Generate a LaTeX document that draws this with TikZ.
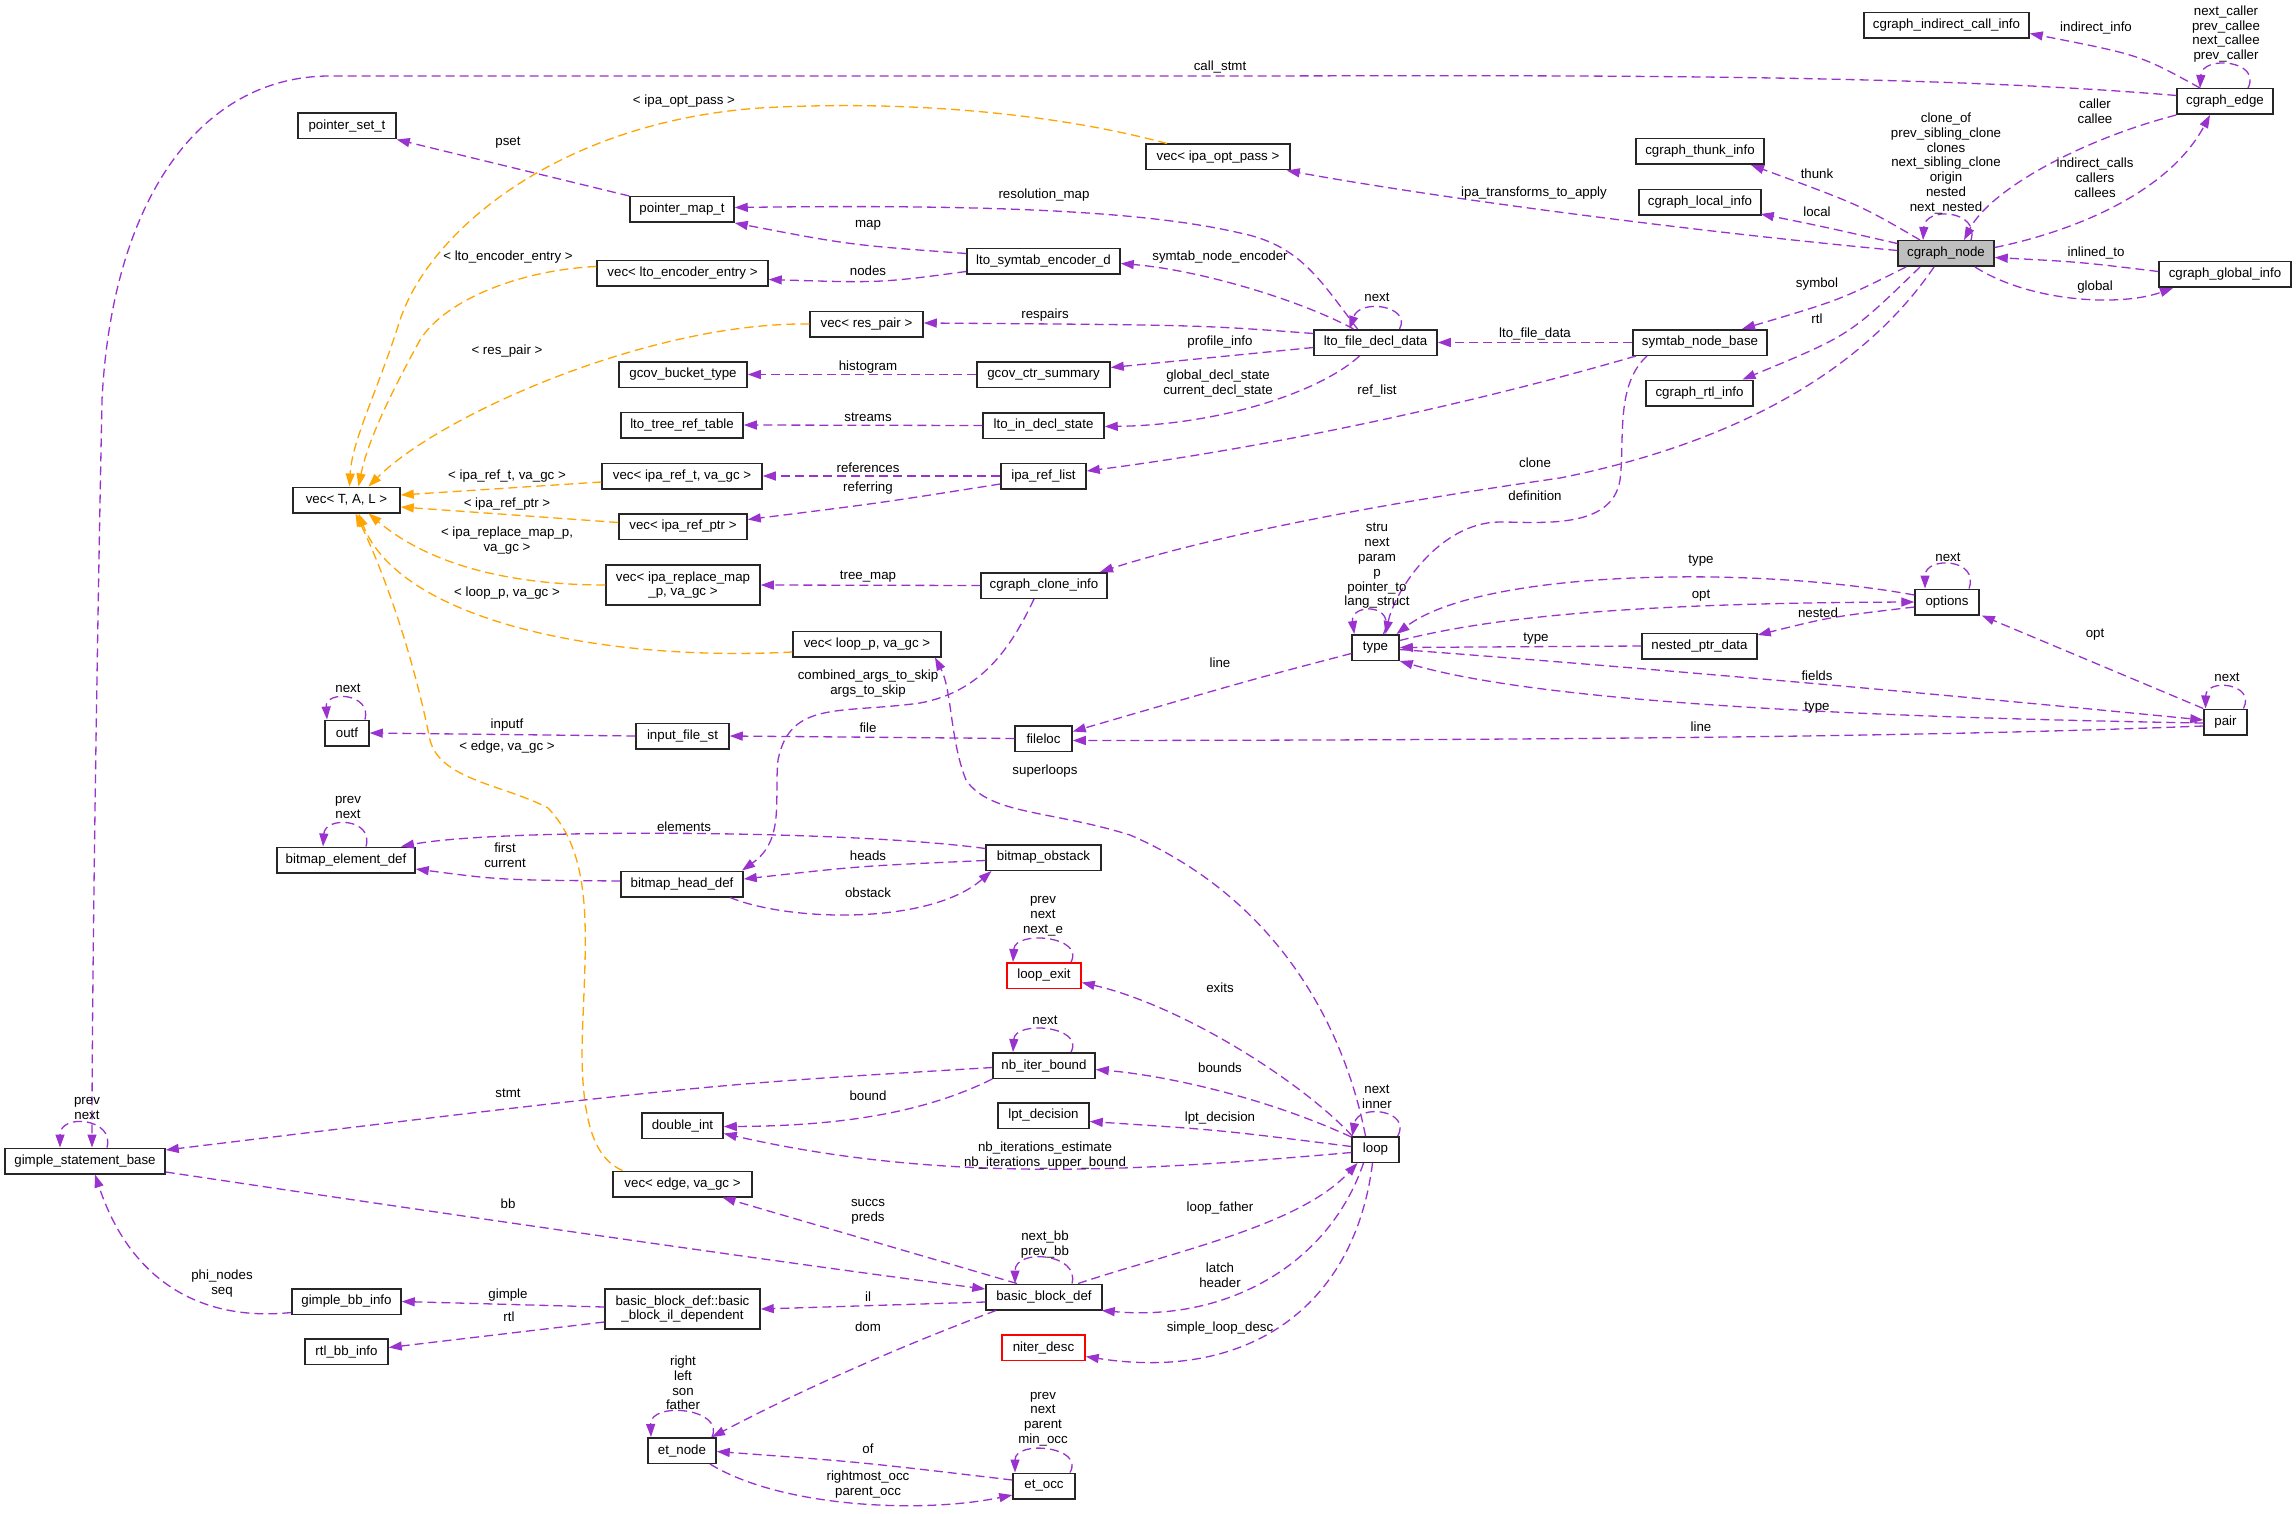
\documentclass[tikz,border=0pt]{standalone}
\usepackage{fontspec}
\setmainfont{Liberation Sans}
\usetikzlibrary{arrows.meta}
\definecolor{purp}{HTML}{9A32CD}
\definecolor{orng}{HTML}{FFA500}
\definecolor{nodegray}{HTML}{BFBFBF}
\begin{document}
\begin{tikzpicture}[x=1pt,y=-1pt,
  every node/.style={font=\fontsize{13.3}{14.8}\selectfont},
  box/.style={draw=black!85, line width=1.5pt, fill=white, inner sep=0pt, minimum height=25.5pt, align=center},
  redbox/.style={box, draw=red},
  lbl/.style={inner sep=0pt, align=center},
  pe/.style={draw=purp, line width=1.3pt, dash pattern=on 9pt off 5pt, -{Triangle[length=13pt,width=9pt]}},
  po/.style={pe, draw=orng}]
\useasboundingbox[fill=white] (0,0) rectangle (2296,1514);

% ---------- nodes ----------
\node[box, minimum width=165] (cgici) at (1946.5,25.5) {cgraph\_indirect\_call\_info};
\node[box, minimum width=96] (cge) at (2225,101.5) {cgraph\_edge};
\node[box, minimum width=128] (cth) at (1700,151.5) {cgraph\_thunk\_info};
\node[box, minimum width=122] (cgl) at (1700,202.5) {cgraph\_local\_info};
\node[box, minimum width=96, fill=nodegray] (cgn) at (1946,253.5) {cgraph\_node};
\node[box, minimum width=132] (cgg) at (2225,274.5) {cgraph\_global\_info};
\node[box, minimum width=144] (vop) at (1218,157) {vec< ipa\_opt\_pass >};
\node[box, minimum width=98] (pst) at (347,126) {pointer\_set\_t};
\node[box, minimum width=104] (pmt) at (682,209.5) {pointer\_map\_t};
\node[box, minimum width=153] (lse) at (1043.5,261.5) {lto\_symtab\_encoder\_d};
\node[box, minimum width=171] (vle) at (682.5,273.5) {vec< lto\_encoder\_entry >};
\node[box, minimum width=113] (vrp) at (866.5,324) {vec< res\_pair >};
\node[box, minimum width=123] (lfd) at (1375.5,342.5) {lto\_file\_decl\_data};
\node[box, minimum width=134] (snb) at (1700,342.5) {symtab\_node\_base};
\node[box, minimum width=128] (gbt) at (683,374.5) {gcov\_bucket\_type};
\node[box, minimum width=133] (gcs) at (1043.5,374.5) {gcov\_ctr\_summary};
\node[box, minimum width=107] (crtl) at (1699.5,393) {cgraph\_rtl\_info};
\node[box, minimum width=122] (ltrt) at (682,425) {lto\_tree\_ref\_table};
\node[box, minimum width=121] (lids) at (1043.5,425.5) {lto\_in\_decl\_state};
\node[box, minimum width=160] (vrt) at (682,476) {vec< ipa\_ref\_t, va\_gc >};
\node[box, minimum width=85] (irl) at (1043.5,476) {ipa\_ref\_list};
\node[box, minimum width=107] (vtal) at (346.5,500) {vec< T, A, L >};
\node[box, minimum width=128] (vrptr) at (683,526.5) {vec< ipa\_ref\_ptr >};
\node[box, minimum width=154, minimum height=40] (vrm) at (683,585) {vec< ipa\_replace\_map\\\_p, va\_gc >};
\node[box, minimum width=126] (cci) at (1044,585.5) {cgraph\_clone\_info};
\node[box, minimum width=148] (vlp) at (867,644) {vec< loop\_p, va\_gc >};
\node[box, minimum width=47] (typ) at (1375.5,647.5) {type};
\node[box, minimum width=115] (npd) at (1699.5,646) {nested\_ptr\_data};
\node[box, minimum width=64] (opt) at (1947,602) {options};
\node[box, minimum width=43] (pair) at (2225.5,722) {pair};
\node[box, minimum width=44] (outf) at (347,733) {outf};
\node[box, minimum width=93] (ifs) at (682.5,736) {input\_file\_st};
\node[box, minimum width=57] (fl) at (1043.5,738.5) {fileloc};
\node[box, minimum width=138] (bed) at (346,860) {bitmap\_element\_def};
\node[box, minimum width=122] (bhd) at (682,884) {bitmap\_head\_def};
\node[box, minimum width=115] (bo) at (1043.5,857.5) {bitmap\_obstack};
\node[redbox, minimum width=74] (le) at (1044,975.5) {loop\_exit};
\node[box, minimum width=102] (nib) at (1044,1065.5) {nb\_iter\_bound};
\node[box, minimum width=91] (lptd) at (1043.5,1115.5) {lpt\_decision};
\node[box, minimum width=81] (di) at (682.5,1125.5) {double\_int};
\node[box, minimum width=47] (lp) at (1375.5,1149.5) {loop};
\node[box, minimum width=160] (gsb) at (85,1161) {gimple\_statement\_base};
\node[box, minimum width=139] (ve) at (682.5,1184) {vec< edge, va\_gc >};
\node[box, minimum width=116] (bbd) at (1044,1297) {basic\_block\_def};
\node[box, minimum width=155, minimum height=40] (bbil) at (682.5,1309) {basic\_block\_def::basic\\\_block\_il\_dependent};
\node[box, minimum width=109] (gbb) at (346.5,1301.5) {gimple\_bb\_info};
\node[box, minimum width=83] (rbi) at (346.5,1351.5) {rtl\_bb\_info};
\node[redbox, minimum width=83] (nd) at (1043.5,1347.5) {niter\_desc};
\node[box, minimum width=68] (etn) at (682,1450.5) {et\_node};
\node[box, minimum width=62] (eto) at (1044,1486) {et\_occ};

% ---------- edges ----------
% cgraph_edge
\draw[pe] ([xshift=-25pt]cge.north) .. controls (2140,55) .. ([yshift=-8pt]cgici.east);
\draw[pe] ([xshift=23pt]cge.north) .. controls (2262,60) and (2202,55) .. ([xshift=-25pt]cge.north);
\draw[pe] ([yshift=6pt]cge.west) .. controls (1900,72) and (1500,76) .. (1200,76) -- (330,76) .. controls (200,76) and (112,200) .. (102,400) .. controls (96,700) and (92,1000) .. ([xshift=7pt]gsb.north);
% cgraph_node
\draw[pe] (cge.south west) .. controls (2080,140) and (1990,190) .. ([xshift=18pt]cgn.north);
\draw[pe] ([yshift=6pt]cgn.east) .. controls (2080,230) and (2170,190) .. ([xshift=-15pt]cge.south);
\draw[pe] ([xshift=25pt]cgn.north) .. controls (1980,210) and (1925,206) .. ([xshift=-23pt]cgn.north);
\draw[pe] ([xshift=-26pt]cgn.north) .. controls (1860,205) .. ([xshift=51pt]cth.south);
\draw[pe] ([yshift=10pt]cgn.west) .. controls (1825,227) .. ([xshift=-1pt,yshift=2pt]cgl.south east);
\draw[pe] ([yshift=3pt]cgg.west) .. controls (2080,262) .. ([yshift=-4pt]cgn.east);
\draw[pe] ([xshift=29pt]cgn.south) .. controls (2030,302) and (2120,307) .. ([xshift=-52pt]cgg.south);
\draw[pe] ([xshift=-40pt]cgn.south) .. controls (1840,300) .. ([xshift=42pt]snb.north);
\draw[pe] ([xshift=-26pt]cgn.south) .. controls (1850,335) .. ([xshift=43pt]crtl.north);
\draw[pe] ([xshift=-12pt]cgn.south) .. controls (1850,390) and (1700,450) .. (1560,478) .. controls (1350,508) and (1200,540) .. ([xshift=56pt]cci.north);
\draw[pe] ([yshift=3pt]cgn.west) .. controls (1700,232) and (1450,200) .. ([xshift=-4pt]vop.south east);
% symtab_node_base
\draw[pe] (snb.west) -- (lfd.east);
\draw[pe] ([xshift=-64pt]snb.south) .. controls (1450,410) and (1250,450) .. ([yshift=5pt]irl.east);
\draw[pe] ([xshift=-53pt]snb.south) .. controls (1615,385) and (1625,440) .. (1620,480) .. controls (1612,530) and (1540,522) .. (1500,522) .. controls (1440,522) and (1395,590) .. ([xshift=10pt]typ.north);
% orange template edges
\draw[po] ([xshift=-51pt]vop.north) .. controls (1050,112) and (900,100) .. (760,108) .. controls (560,122) and (430,230) .. (400,320) .. controls (378,390) and (352,440) .. ([xshift=3pt]vtal.north);
\draw[po] ([yshift=7pt]vle.west) .. controls (520,270) and (445,300) .. (420,340) .. controls (390,395) and (368,440) .. ([xshift=12pt]vtal.north);
\draw[po] (vrp.west) .. controls (650,322) and (440,415) .. ([xshift=22pt]vtal.north);
\draw[po] ([yshift=-6pt]vrt.west) -- ([yshift=5pt]vtal.east);
\draw[po] ([yshift=4pt]vrptr.west) .. controls (500,514) .. ([yshift=-7pt]vtal.east);
\draw[po] (vrm.west) .. controls (510,585) and (430,565) .. ([xshift=22pt]vtal.south);
\draw[po] ([yshift=-8pt]vlp.west) .. controls (600,662) and (400,620) .. ([xshift=12pt]vtal.south);
\draw[po] ([xshift=-60pt]ve.north) .. controls (598,1160) and (582,1130) .. (582,1050) .. controls (584,950) and (598,860) .. (548,808) .. controls (505,785) and (440,780) .. (430,740) .. controls (410,640) and (378,560) .. ([xshift=9pt]vtal.south);
% lto stuff
\draw[pe] (pmt.north west) -- (pst.south east);
\draw[pe] ([yshift=8pt]lse.west) .. controls (850,245) .. (pmt.south east);
\draw[pe] ([yshift=-10pt]lse.west) .. controls (880,283) .. ([yshift=-6pt]vle.east);
\draw[pe] ([xshift=24pt]lfd.north) .. controls (1412,306) and (1360,298) .. ([xshift=-26pt]lfd.north);
\draw[pe] ([xshift=-22pt]lfd.north) .. controls (1300,300) and (1200,270) .. ([yshift=-2pt]lse.east);
\draw[pe] ([xshift=-18pt]lfd.north) .. controls (1320,280) and (1300,245) .. (1240,233) .. controls (1150,212) and (1000,204) .. ([yshift=2pt]pmt.east);
\draw[pe] ([yshift=9pt]lfd.west) .. controls (1200,325) .. ([yshift=1pt]vrp.east);
\draw[pe] ([yshift=-5pt]lfd.west) -- ([yshift=7pt]gcs.east);
\draw[pe] ([xshift=-16pt]lfd.south) .. controls (1320,392) and (1220,425) .. ([yshift=-1pt]lids.east);
\draw[pe] (gcs.west) -- (gbt.east);
\draw[pe] (lids.west) -- (ltrt.east);
\draw[pe] (irl.west) -- (vrt.east);
\draw[pe] ([yshift=-8pt]irl.west) .. controls (880,503) .. ([yshift=7pt]vrptr.east);
\draw[pe] (cci.west) -- (vrm.east);
\draw[pe] ([xshift=-10pt]cci.south) .. controls (1010,650) and (980,692) .. (920,703) .. controls (840,714) and (790,700) .. (778,760) .. controls (774,800) and (785,840) .. ([xshift=60pt]bhd.north);
% type / options / pair
\draw[pe] ([xshift=8pt]typ.north) .. controls (1398,603) and (1350,603) .. ([xshift=3pt]typ.north west);
\draw[pe] ([yshift=7pt]opt.west) .. controls (1750,565) and (1480,570) .. ([xshift=21pt]typ.north);
\draw[pe] ([yshift=7pt]typ.east) .. controls (1500,615) and (1650,603) .. (opt.west);
\draw[pe] ([xshift=22pt]opt.north) .. controls (1980,558) and (1925,556) .. ([xshift=-22pt]opt.north);
\draw[pe] ([yshift=-5pt]opt.west) .. controls (1830,617) .. ([yshift=11pt]npd.east);
\draw[pe] (npd.west) -- (typ.east);
\draw[pe] (pair.north west) -- ([xshift=2pt]opt.south east);
\draw[pe] ([xshift=18pt]pair.north) .. controls (2256,683) and (2206,678) .. ([xshift=-20pt]pair.north);
\draw[pe] ([yshift=-2pt]typ.east) .. controls (1700,672) and (2000,700) .. ([yshift=2pt]pair.west);
\draw[pe] ([yshift=-1pt]pair.west) .. controls (1900,718) and (1550,705) .. (typ.south east);
\draw[pe] ([yshift=-4pt]pair.west) .. controls (2000,734) and (1700,740) .. ([yshift=-2pt]fl.east);
\draw[pe] ([yshift=-6pt]typ.west) .. controls (1250,680) .. ([yshift=7pt]fl.east);
\draw[pe] (fl.west) -- (ifs.east);
\draw[pe] (ifs.west) -- (outf.east);
\draw[pe] ([xshift=18pt]outf.north) .. controls (372,693) and (325,690) .. ([xshift=-20pt]outf.north);
% loop and bitmap
\draw[pe] ([xshift=-10pt]lp.north) .. controls (1345,1030) and (1280,900) .. (1130,835) .. controls (1050,810) and (990,815) .. (966,780) .. controls (950,740) and (952,690) .. ([xshift=68pt]vlp.south);
\draw[pe] ([yshift=9pt]bo.west) .. controls (850,830) and (500,828) .. ([xshift=55pt]bed.north);
\draw[pe] ([yshift=-3pt]bo.west) .. controls (860,866) .. ([yshift=5pt]bhd.east);
\draw[pe] ([yshift=3pt]bhd.west) .. controls (500,880) .. ([yshift=-9pt]bed.east);
\draw[pe] ([xshift=48pt]bhd.south) .. controls (790,922) and (930,925) .. ([xshift=-52pt]bo.south);
\draw[pe] ([xshift=20pt]bed.north) .. controls (374,818) and (325,816) .. ([xshift=-23pt]bed.north);
\draw[pe] ([xshift=27pt]le.north) .. controls (1085,936) and (1015,930) .. ([xshift=-31pt]le.north);
\draw[pe] ([xshift=1pt]lp.north west) .. controls (1300,1080) and (1180,1005) .. ([yshift=-7pt]le.east);
\draw[pe] ([xshift=27pt]nib.north) .. controls (1085,1026) and (1015,1020) .. ([xshift=-31pt]nib.north);
\draw[pe] ([yshift=-1pt]lp.north west) .. controls (1260,1095) and (1160,1075) .. ([yshift=-4pt]nib.east);
\draw[pe] ([xshift=-2pt]lp.north east) .. controls (1412,1110) and (1358,1103) .. ([xshift=1pt]lp.north west);
\draw[pe] ([yshift=3pt]lp.west) .. controls (1220,1130) .. ([yshift=-6pt]lptd.east);
\draw[pe] ([yshift=-3pt]lp.west) .. controls (1150,1170) and (950,1185) .. ([yshift=-8pt]di.east);
\draw[pe] (nib.south west) .. controls (930,1110) and (850,1126) .. ([yshift=-1pt]di.east);
\draw[pe] ([yshift=-2pt]nib.west) .. controls (700,1085) .. ([yshift=11pt]gsb.east);
\draw[pe] ([xshift=22pt]gsb.north) .. controls (115,1118) and (60,1113) .. ([xshift=-25pt]gsb.north);
\draw[pe] ([yshift=-11pt]gsb.east) .. controls (500,1222) and (800,1265) .. ([yshift=8pt]bbd.west);
\draw[pe] ([xshift=-27pt]bbd.north) -- ([xshift=40pt]ve.south);
\draw[pe] ([xshift=28pt]bbd.north) .. controls (1080,1253) and (1015,1248) .. ([xshift=-29pt]bbd.north);
\draw[pe] ([xshift=34pt]bbd.north) .. controls (1180,1250) and (1300,1225) .. ([xshift=-18pt]lp.south);
\draw[pe] ([xshift=-12pt]lp.south) .. controls (1330,1262) and (1230,1322) .. ([xshift=-1pt]bbd.south east);
\draw[pe] ([xshift=-3pt]lp.south) .. controls (1355,1305) and (1250,1382) .. ([yshift=-9pt]nd.east);
\draw[pe] ([yshift=-5pt]bbd.west) -- (bbil.east);
\draw[pe] ([yshift=2pt]bbil.west) -- (gbb.east);
\draw[pe] ([yshift=-13pt]bbil.west) -- ([yshift=4pt]rbi.east);
\draw[pe] ([yshift=-11pt]gbb.west) .. controls (200,1322) and (130,1280) .. ([xshift=10pt]gsb.south);
\draw[pe] ([xshift=-48pt]bbd.south) .. controls (930,1335) and (820,1380) .. ([xshift=30pt]etn.north);
\draw[pe] ([xshift=30pt]etn.north) .. controls (725,1408) and (650,1401) .. ([xshift=-31pt]etn.north);
\draw[pe] ([yshift=6pt]eto.west) .. controls (860,1462) .. ([yshift=-1pt]etn.east);
\draw[pe] ([xshift=28pt]etn.south) .. controls (780,1507) and (920,1514) .. ([yshift=-9pt]eto.west);
\draw[pe] ([xshift=26pt]eto.north) .. controls (1085,1446) and (1015,1440) .. ([xshift=-29pt]eto.north);

% ---------- labels ----------
\node[lbl] (l1) at (2096,28) {indirect\_info};
\node[lbl] (l2) at (2226,34) {next\_caller\\prev\_callee\\next\_callee\\prev\_caller};
\node[lbl] (l3) at (1220,67) {call\_stmt};
\node[lbl] (l4) at (2095,111.5) {caller\\callee};
\node[lbl] (l5) at (2095,177.5) {indirect\_calls\\callers\\callees};
\node[lbl] (l6) at (1946,163.5) {clone\_of\\prev\_sibling\_clone\\clones\\next\_sibling\_clone\\origin\\nested\\next\_nested};
\node[lbl] (l7) at (1817,174) {thunk};
\node[lbl] (l8) at (1817,212) {local};
\node[lbl] (l9) at (2096,253) {inlined\_to};
\node[lbl] (l10) at (2095,287) {global};
\node[lbl] (l11) at (1817,284) {symbol};
\node[lbl] (l12) at (1817,319) {rtl};
\node[lbl] (l13) at (1534,193) {ipa\_transforms\_to\_apply};
\node[lbl] (l14) at (1044,195) {resolution\_map};
\node[lbl] (l15) at (868,225) {map};
\node[lbl] (l16) at (868,271) {nodes};
\node[lbl] (l17) at (508,143) {pset};
\node[lbl] (l18) at (684,101) {< ipa\_opt\_pass >};
\node[lbl] (l19) at (508,257) {< lto\_encoder\_entry >};
\node[lbl] (l20) at (1220,257) {symtab\_node\_encoder};
\node[lbl] (l21) at (1377,297) {next};
\node[lbl] (l22) at (1045,315) {respairs};
\node[lbl] (l23) at (1220,342) {profile\_info};
\node[lbl] (l24) at (1535,334) {lto\_file\_data};
\node[lbl] (l25) at (1218,383.5) {global\_decl\_state\\current\_decl\_state};
\node[lbl] (l26) at (1377,391) {ref\_list};
\node[lbl] (l27) at (868,367) {histogram};
\node[lbl] (l28) at (868,417) {streams};
\node[lbl] (l29) at (507,351) {< res\_pair >};
\node[lbl] (l30) at (868,468) {references};
\node[lbl] (l31) at (868,488) {referring};
\node[lbl] (l32) at (507,476) {< ipa\_ref\_t, va\_gc >};
\node[lbl] (l33) at (507,504) {< ipa\_ref\_ptr >};
\node[lbl] (l34) at (507,540.5) {< ipa\_replace\_map\_p,\\va\_gc >};
\node[lbl] (l35) at (868,577) {tree\_map};
\node[lbl] (l36) at (507,593) {< loop\_p, va\_gc >};
\node[lbl] (l37) at (1535,463) {clone};
\node[lbl] (l38) at (1535,496) {definition};
\node[lbl] (l39) at (1377,566) {stru\\next\\param\\p\\pointer\_to\\lang\_struct};
\node[lbl] (l40) at (1701,561) {type};
\node[lbl] (l41) at (1701,596) {opt};
\node[lbl] (l42) at (1948,557) {next};
\node[lbl] (l43) at (1818,613) {nested};
\node[lbl] (l44) at (1536,639) {type};
\node[lbl] (l45) at (2095,635) {opt};
\node[lbl] (l46) at (2227,677) {next};
\node[lbl] (l47) at (1817,676) {fields};
\node[lbl] (l48) at (1817,708) {type};
\node[lbl] (l49) at (1701,727) {line};
\node[lbl] (l50) at (1220,663) {line};
\node[lbl] (l51) at (868,683.5) {combined\_args\_to\_skip\\args\_to\_skip};
\node[lbl] (l52) at (348,688) {next};
\node[lbl] (l53) at (507,725) {inputf};
\node[lbl] (l54) at (868,728) {file};
\node[lbl] (l55) at (507,747) {< edge, va\_gc >};
\node[lbl] (l56) at (1045,771) {superloops};
\node[lbl] (l57) at (348,807.5) {prev\\next};
\node[lbl] (l58) at (684,827) {elements};
\node[lbl] (l59) at (505,855) {first\\current};
\node[lbl] (l60) at (868,856) {heads};
\node[lbl] (l61) at (868,893) {obstack};
\node[lbl] (l62) at (1043,916) {prev\\next\\next\_e};
\node[lbl] (l63) at (1220,988) {exits};
\node[lbl] (l64) at (1045,1020) {next};
\node[lbl] (l65) at (1220,1068) {bounds};
\node[lbl] (l66) at (508,1093) {stmt};
\node[lbl] (l67) at (868,1096) {bound};
\node[lbl] (l68) at (1377,1096.5) {next\\inner};
\node[lbl] (l69) at (1220,1118) {lpt\_decision};
\node[lbl] (l70) at (87,1108.5) {prev\\next};
\node[lbl] (l71) at (1045,1155.5) {nb\_iterations\_estimate\\nb\_iterations\_upper\_bound};
\node[lbl] (l72) at (508,1204) {bb};
\node[lbl] (l73) at (868,1211.5) {succs\\preds};
\node[lbl] (l74) at (1220,1208) {loop\_father};
\node[lbl] (l75) at (1045,1244.5) {next\_bb\\prev\_bb};
\node[lbl] (l76) at (1220,1275.5) {latch\\header};
\node[lbl] (l77) at (222,1283.5) {phi\_nodes\\seq};
\node[lbl] (l78) at (508,1295) {gimple};
\node[lbl] (l79) at (509,1317) {rtl};
\node[lbl] (l80) at (868,1297) {il};
\node[lbl] (l81) at (1220,1328) {simple\_loop\_desc};
\node[lbl] (l82) at (868,1327) {dom};
\node[lbl] (l83) at (683,1383) {right\\left\\son\\father};
\node[lbl] (l84) at (1043,1419) {prev\\next\\parent\\min\_occ};
\node[lbl] (l85) at (868,1449) {of};
\node[lbl] (l86) at (868,1484.5) {rightmost\_occ\\parent\_occ};
\end{tikzpicture}
\end{document}
